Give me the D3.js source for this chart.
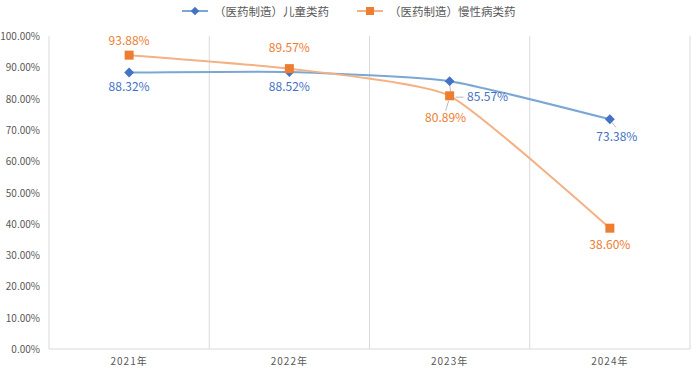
<!DOCTYPE html>
<html><head><meta charset="utf-8">
<script src="https://cdn.jsdelivr.net/npm/d3@7"></script>
<style>body{margin:0;background:#fff;}svg{display:block;font-family:"Microsoft YaHei","Noto Sans CJK SC","DejaVu Sans",sans-serif;}</style>
</head><body>
<svg id="c" width="700" height="368"></svg>
<script>
const categories = ["2021年","2022年","2023年","2024年"];
const seriesNames = ["（医药制造）儿童类药","（医药制造）慢性病类药"];
const childValues = [88.32, 88.52, 85.57, 73.38];
const chronicValues = [93.88, 89.57, 80.89, 38.60];
const yTicks = [0,10,20,30,40,50,60,70,80,90,100];

(function(){
const svg = d3.select("#c");
const pl = 49, pr = 690, pt = 36, pb = 349;
const x = d3.scaleBand().domain(categories).range([pl, pr]);
const y = d3.scaleLinear().domain([0,100]).range([pb, pt]);
const cx = d => x(d) + x.bandwidth()/2;

const gx = categories.slice(1).map(d=>x(d)).concat([pr]);
svg.append("g").selectAll("line").data(gx)
  .join("line")
  .attr("x1", d=>d).attr("x2", d=>d)
  .attr("y1", pt).attr("y2", pb)
  .attr("stroke","#d9d9d9").attr("stroke-width",1);
svg.append("line").attr("x1",pl).attr("x2",pl).attr("y1",pt).attr("y2",pb).attr("stroke","#d9d9d9");
svg.append("line").attr("x1",pl).attr("x2",pr).attr("y1",pb).attr("y2",pb).attr("stroke","#d9d9d9");

svg.append("g").selectAll("text").data(yTicks).join("text")
  .attr("x", 40).attr("y", d=>y(d)+4)
  .attr("text-anchor","end").attr("font-size",10).attr("fill","#595959")
  .text(d=>d.toFixed(2)+"%");
svg.append("g").selectAll("text").data(categories).join("text")
  .attr("x", d=>cx(d)).attr("y", 365)
  .attr("text-anchor","middle").attr("font-size",10).attr("fill","#595959")
  .attr("letter-spacing","1px")
  .text(d=>d);

const line = d3.line().x((d,i)=>cx(categories[i])).y(d=>y(d)).curve(d3.curveCardinal.tension(0.5));

svg.append("path").datum(childValues).attr("d",line).attr("fill","none").attr("stroke","#7ba7d5").attr("stroke-width",2);
svg.append("path").datum(chronicValues).attr("d",line).attr("fill","none").attr("stroke","#f5b183").attr("stroke-width",2);

const c23 = cx(categories[2]), c24 = cx(categories[3]);
const lead = [[c23+6,y(childValues[2])+16,c23+14,y(childValues[2])+16],
              [c23-1,y(chronicValues[2])+5,c23-4,y(chronicValues[2])+15],
              [c24+2,y(childValues[3])+3,c24+6,y(childValues[3])+8],
              [c23,y(childValues[2])+3,c23+1,y(chronicValues[2])-4]];
svg.append("g").selectAll("line").data(lead).join("line")
  .attr("x1",d=>d[0]).attr("y1",d=>d[1]).attr("x2",d=>d[2]).attr("y2",d=>d[3])
  .attr("stroke","#a6a6a6").attr("stroke-width",0.8);

svg.append("g").selectAll("rect").data(childValues).join("rect")
  .attr("x",-3.5).attr("y",-3.5).attr("width",7).attr("height",7)
  .attr("transform",(d,i)=>`translate(${cx(categories[i])},${y(d)}) rotate(45)`)
  .attr("fill","#4472c4");
svg.append("g").selectAll("rect").data(chronicValues).join("rect")
  .attr("x",(d,i)=>cx(categories[i])-4.5).attr("y",d=>y(d)-4.5)
  .attr("width",9).attr("height",9).attr("fill","#ed7d31");

const childOff = [[0,18],[0,19],[38,20],[7,22]];
const chronicOff = [[0,-10],[0,-17],[-4,26],[0,21]];
svg.append("g").selectAll("text").data(childValues).join("text")
  .attr("x",(d,i)=>cx(categories[i])+childOff[i][0])
  .attr("y",(d,i)=>y(d)+childOff[i][1])
  .attr("text-anchor","middle").attr("font-size",12).attr("fill","#4472c4")
  .text(d=>d.toFixed(2)+"%");
svg.append("g").selectAll("text").data(chronicValues).join("text")
  .attr("x",(d,i)=>cx(categories[i])+chronicOff[i][0])
  .attr("y",(d,i)=>y(d)+chronicOff[i][1])
  .attr("text-anchor","middle").attr("font-size",12).attr("fill","#ed7d31")
  .text(d=>d.toFixed(2)+"%");

const lg = svg.append("g");
const legendItems = [{name:seriesNames[0], color:"#4472c4", lineColor:"#7ba7d5", x:182, shape:"diamond"},
                     {name:seriesNames[1], color:"#ed7d31", lineColor:"#f5b183", x:357, shape:"square"}];
legendItems.forEach(it=>{
  lg.append("line").attr("x1",it.x).attr("x2",it.x+26).attr("y1",11).attr("y2",11).attr("stroke",it.lineColor).attr("stroke-width",2);
  if(it.shape==="diamond"){
    lg.append("rect").attr("x",-3).attr("y",-3).attr("width",6).attr("height",6)
      .attr("transform",`translate(${it.x+13},11) rotate(45)`).attr("fill",it.color);
  } else {
    lg.append("rect").attr("x",it.x+9).attr("y",7).attr("width",8).attr("height",8).attr("fill",it.color);
  }
  lg.append("text").attr("x",it.x+32).attr("y",15.5).attr("font-size",11.5).attr("fill","#595959").text(it.name);
});
})();
</script>
</body></html>
